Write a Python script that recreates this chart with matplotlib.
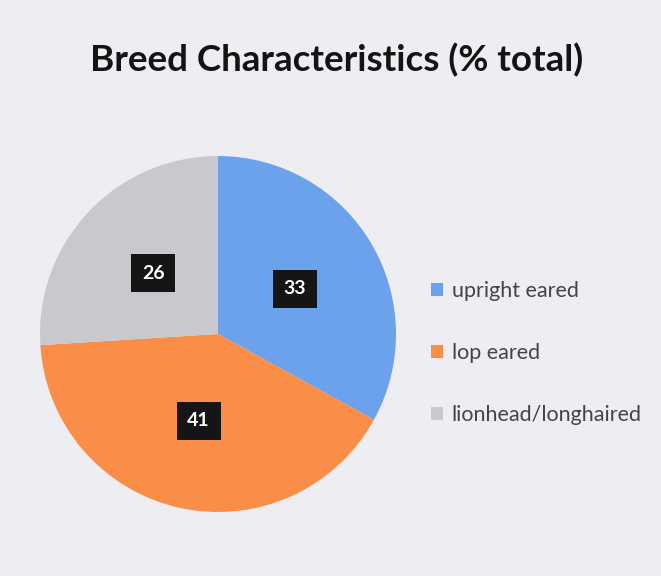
import matplotlib
matplotlib.use("Agg")
import matplotlib.pyplot as plt

categories = ["upright eared", "lop eared", "lionhead/longhaired"]
values = [33, 41, 26]
colors = ["#6CA2EC", "#FA8D47", "#C9C8CD"]
title = "Breed Characteristics (% total)"

bg = "#EEEDF1"
fig = plt.figure(figsize=(6.61, 5.76), dpi=100, facecolor=bg)
W, H = 661, 576
cx, cy, r = 218, 334, 178
ax = fig.add_axes([(cx - r) / W, (H - cy - r) / H, 2 * r / W, 2 * r / H])
ax.set_facecolor(bg)

wedges, texts, autotexts = ax.pie(
    values, colors=colors, startangle=90, counterclock=False,
    autopct=lambda p: f"{p:.0f}", pctdistance=0.5,
    wedgeprops=dict(linewidth=0),
    textprops=dict(color="white", fontsize=14, fontweight="bold", family="Lato"),
)
for t in autotexts:
    t.set_bbox(dict(boxstyle="square,pad=0.55", facecolor="#151515", edgecolor="none"))
ax.set_xlim(-1, 1)
ax.set_ylim(-1, 1)
ax.set_aspect("equal")

fig.text(337 / W, 1 - 60 / H, title, ha="center", va="center",
         fontsize=26.5, fontweight="bold", family="Lato", color="#141414")

leg = fig.legend(wedges, categories, loc="upper left",
                 bbox_to_anchor=(412 / W, 1 - 262 / H),
                 frameon=False, handlelength=0.55, handleheight=0.55,
                 handletextpad=0.4, labelspacing=1.95,
                 prop=dict(family="Lato", size=15.5))
for t in leg.get_texts():
    t.set_color("#444444")

fig.savefig("out.png", dpi=100, facecolor=bg)
